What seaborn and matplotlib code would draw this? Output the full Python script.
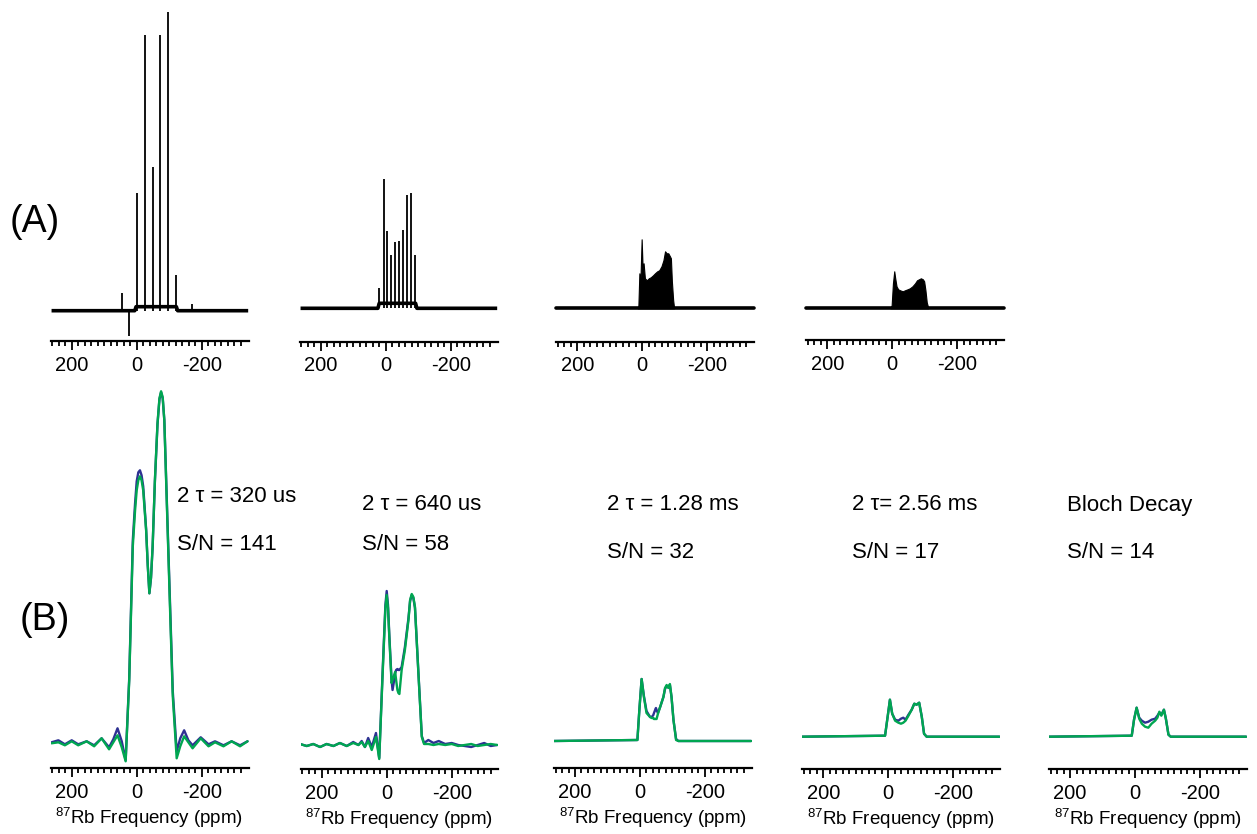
import matplotlib
matplotlib.use("Agg")
import matplotlib.pyplot as plt
import seaborn as sns
import pandas as pd

# ---------------- data (chemical shift in ppm, intensity in a.u.) ----------------
# (A) spikelet spectra: discrete spikes
a1_pos = [46, 24, 0, -25, -49, -73, -97, -121, -169]
a1_amp = [18, -25, 118, 276, 144, 276, 299, 36, 7]
a1_base_ppm = [262, 6, 2, -122, -126, -343]
a1_base_amp = [0, 0, 4, 4, 0, 0]

a2_pos = [20, 6, -5, -17, -30, -42, -54, -66, -78, -90]
a2_amp = [20, 129, 77, 53, 66, 67, 78, 113, 115, 53]
a2_base_ppm = [262, 24, 20, -92, -96, -343]
a2_base_amp = [0, 0, 5, 5, 0, 0]

# (A) dense spikelet spectra: upper envelope
a3_ppm = [14, 12, 9, 6, 2, -1, -4, -8, -14, -20, -26, -33, -39, -46, -52, -59,
          -65, -70, -75, -80, -85, -88, -91, -95, -98]
a3_env = [0, 3, 35, 25, 69, 40, 45, 30, 28, 30, 31, 33, 35, 37, 38, 42,
          48, 57, 55, 55, 52, 50, 27, 8, 0]

a4_ppm = [6, 2, -2, -6, -9, -13, -18, -24, -32, -39, -47, -54, -62, -70, -76,
          -82, -88, -94, -98, -102, -106, -111]
a4_env = [0, 3, 25, 37, 30, 22, 19, 18, 17, 18, 19, 20, 22, 25, 28,
          29, 30, 29, 27, 18, 6, 0]

# (B) processed spectra: two traces each
b1_ppm = [262, 241, 221, 200, 180, 154, 131, 108, 85, 72, 59, 46, 34, 23, 12, 5, 0,
          -5, -10, -15, -20, -29, -34, -39, -44, -49, -56, -64, -70, -75, -80, -85,
          -92, -103, -111, -123, -134, -146, -159, -172, -197, -221, -241, -267,
          -292, -318, -341]
b1_blue = [1, 3, -1, 3, -1, 2, -2, 5, -4, 4, 15, 2, -17, 65, 203, 240, 262,
           271, 273, 268, 257, 214, 178, 150, 165, 196, 262, 319, 344, 351, 345, 323,
           250, 135, 52, -8, 5, 13, 3, -2, 6, -1, 2, -2,
           2, -2, 2]
b1_green = [0, 1, -2, 2, -2, 2, -3, 5, -6, 1, 8, -4, -18, 63, 197, 233, 253,
            263, 267, 263, 253, 213, 178, 150, 166, 197, 263, 320, 345, 352, 346, 323,
            247, 130, 47, -15, -3, 7, 1, -5, 5, -3, 1, -3,
            2, -3, 2]

b2_ppm = [267, 246, 226, 205, 185, 164, 144, 123, 103, 87, 77, 67, 57, 46, 33, 23,
          12, 4, 0, -4, -8, -15, -18, -23, -26, -29, -33, -36, -39, -46, -56, -67,
          -72, -77, -82, -87, -97, -108, -115, -128, -144, -160, -180, -200, -220,
          -240, -260, -280, -300, -320, -340]
b2_blue = [1, -1, 1, -2, 1, -1, 2, -1, 3, 0, 4, -2, 7, -2, 12, -13,
           78, 140, 154, 140, 110, 65, 55, 65, 72, 75, 76, 75, 75, 78, 98, 127,
           144, 150, 147, 137, 76, 9, 2, 5, 2, 4, 1, 2, 0,
           -1, -2, 0, 2, -1, 0]
b2_green = [1, -1, 1, -2, 1, -1, 2, -1, 2, 0, 3, -2, 4, -5, 8, -14,
            75, 137, 150, 137, 108, 62, 65, 70, 73, 65, 55, 52, 51, 75, 95, 125,
            145, 151, 148, 138, 75, 8, 1, 1, 0, 1, 0, 1, -1,
            0, 1, -1, 0, 1, 0]

b3_ppm = [265, 8, 2, -5, -12, -20, -31, -36, -41, -43, -49, -51, -55, -62, -72,
          -77, -82, -87, -92, -97, -103, -111, -118, -342]
b3_blue = [0, 1, 31, 62, 45, 30, 24, 24, 26, 28, 33, 31, 28, 34, 44,
           52, 55, 54, 56, 44, 21, 2, 0, 0]
b3_green = [0, 1, 31, 62, 44, 28, 24, 23, 23, 22, 22, 22, 27, 34, 44,
            53, 56, 53, 57, 44, 21, 1, 0, 0]

b4_ppm = [265, 10, 2, -5, -12, -21, -31, -39, -46, -53, -62, -72, -80, -87, -95,
          -103, -110, -118, -342]
b4_blue = [0, 1, 20, 37, 23, 17, 16, 18, 19, 17, 22, 27, 33, 32, 34, 20, 3, 0, 0]
b4_green = [0, 1, 20, 37, 23, 16, 14, 13, 14, 16, 21, 27, 33, 32, 34, 20, 3, 0, 0]

b5_ppm = [265, 10, 3, -5, -13, -21, -31, -41, -51, -62, -69, -75, -81, -89, -95,
          -103, -110, -342]
b5_blue = [0, 1, 17, 29, 19, 16, 14, 15, 17, 18, 21, 24, 22, 27, 18, 2, 0, 0]
b5_green = [0, 1, 17, 29, 18, 13, 10, 9, 13, 16, 19, 25, 21, 27, 18, 2, 0, 0]

b_labels = ["2 \u03c4 = 320 us", "2 \u03c4 = 640 us", "2 \u03c4 = 1.28 ms",
            "2 \u03c4= 2.56 ms", "Bloch Decay"]
sn_labels = ["S/N = 141", "S/N = 58", "S/N = 32", "S/N = 17", "S/N = 14"]

major_ticks = [200, 0, -200]
major_labels = ["200", "0", "-200"]
xlabel_text = r"$\mathregular{^{87}}$Rb Frequency (ppm)"

# ---------------- style ----------------
sns.set_theme(style="white")
plt.rcParams["font.family"] = ["Liberation Sans", "DejaVu Sans"]
plt.rcParams["mathtext.fontset"] = "custom"
plt.rcParams["mathtext.rm"] = "Liberation Sans"
plt.rcParams["text.color"] = "black"
plt.rcParams["axes.labelcolor"] = "black"

BLUE = "#2e3192"
GREEN = "#00a651"
W, H = 1257, 834
XL, XR = 265, -344
SCALE = 0.325  # pixels per ppm

fig = plt.figure(figsize=(W / 100, H / 100), dpi=100)
fig.patch.set_facecolor("white")


def make_axes(x0, tick_y, base_y, top_y, xlabel=False):
    left = x0 - XL * SCALE
    right = x0 - XR * SCALE
    ax = fig.add_axes([left / W, 1 - tick_y / H, (right - left) / W, (tick_y - top_y) / H])
    ax.set_xlim(XL, XR)
    ax.set_ylim(-(tick_y - base_y), base_y - top_y)
    ax.patch.set_alpha(0)
    for s in ("left", "right", "top"):
        ax.spines[s].set_visible(False)
    ax.spines["bottom"].set_linewidth(1.6)
    ax.spines["bottom"].set_color("black")
    ax.set_yticks([])
    ax.set_xticks(major_ticks)
    ax.set_xticklabels(major_labels)
    ax.set_xticks(list(range(260, -321, -20)), minor=True)
    ax.tick_params(axis="x", which="major", direction="out", length=6.5, width=1.3,
                   labelsize=14.5, pad=4, colors="black", bottom=True)
    ax.tick_params(axis="x", which="minor", direction="out", length=3.6, width=1.3,
                   colors="black", bottom=True)
    if xlabel:
        ax.set_xlabel(xlabel_text, fontsize=13.5, labelpad=3, color="black")
    else:
        ax.set_xlabel("")
    ax.set_ylabel("")
    return ax


def spikes(ax, pos, amp, bppm, bamp):
    ax.plot(bppm, bamp, color="black", lw=2.6, solid_capstyle="butt", clip_on=False)
    ax.vlines(pos, 0, amp, color="black", lw=1.3, clip_on=False)


def envelope(ax, ppm, env):
    ax.plot([XL, XR + 1], [0, 0], color="black", lw=2.6, clip_on=False)
    ax.fill_between(ppm, 0, env, color="black", lw=0.8, edgecolor="black")


def traces(ax, ppm, blue, green):
    df = pd.DataFrame({"ppm": ppm, "blue": blue, "green": green})
    sns.lineplot(data=df, x="ppm", y="blue", ax=ax, color=BLUE, lw=1.7,
                 sort=False, estimator=None)
    sns.lineplot(data=df, x="ppm", y="green", ax=ax, color=GREEN, lw=1.7,
                 sort=False, estimator=None)


# ---------------- row (A) ----------------
ax = make_axes(136.7, 341, 310.7, 0)
spikes(ax, a1_pos, a1_amp, a1_base_ppm, a1_base_amp)
ax = make_axes(385.7, 341.7, 308.3, 0)
spikes(ax, a2_pos, a2_amp, a2_base_ppm, a2_base_amp)
ax = make_axes(642.3, 341.7, 308.3, 0)
envelope(ax, a3_ppm, a3_env)
ax = make_axes(892.3, 340, 308.3, 0)
envelope(ax, a4_ppm, a4_env)

# ---------------- row (B) ----------------
b_panels = [
    (136.7, 768.3, 743.3, b1_ppm, b1_blue, b1_green),
    (386.7, 769.3, 745.0, b2_ppm, b2_blue, b2_green),
    (640.0, 768.3, 741.0, b3_ppm, b3_blue, b3_green),
    (888.3, 769.3, 736.7, b4_ppm, b4_blue, b4_green),
    (1135.0, 769.3, 736.7, b5_ppm, b5_blue, b5_green),
]
for x0, ty, by, ppm, bl, gr in b_panels:
    ax = make_axes(x0, ty, by, 380, xlabel=True)
    traces(ax, ppm, bl, gr)

# ---------------- annotations ----------------
text_pos = [(177, 496, 545), (362, 505, 545), (607, 505, 552), (852, 505, 552), (1067, 505, 552)]
for (x, y1, y2), t1, t2 in zip(text_pos, b_labels, sn_labels):
    fig.text(x / W, 1 - y1 / H, t1, fontsize=16, ha="left", va="center", color="black")
    fig.text(x / W, 1 - y2 / H, t2, fontsize=16, ha="left", va="center", color="black")

fig.text(10 / W, 1 - 222 / H, "(A)", fontsize=27, ha="left", va="center", color="black")
fig.text(20 / W, 1 - 620 / H, "(B)", fontsize=27, ha="left", va="center", color="black")

fig.savefig("out.png", dpi=100)
